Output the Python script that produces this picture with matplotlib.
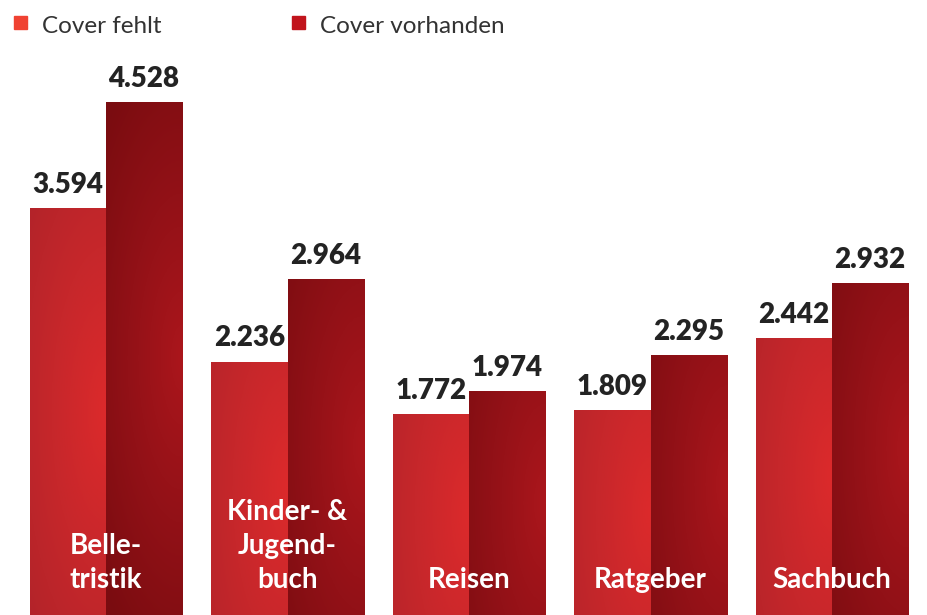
import numpy as np
import matplotlib
matplotlib.use("Agg")
import matplotlib.pyplot as plt
from matplotlib.colors import LinearSegmentedColormap

categories = ["Belle-\ntristik", "Kinder- &\nJugend-\nbuch", "Reisen", "Ratgeber", "Sachbuch"]
cover_fehlt = [3594, 2236, 1772, 1809, 2442]
cover_vorhanden = [4528, 2964, 1974, 2295, 2932]
series_names = ["Cover fehlt", "Cover vorhanden"]

plt.rcParams["font.family"] = ["Lato", "DejaVu Sans"]

fig = plt.figure(figsize=(9.27, 6.15), dpi=100)
ax = fig.add_axes([0, 0, 1, 1])
ax.set_xlim(-0.584, 4.523)
ax.set_ylim(0, 5428)
ax.axis("off")

x = np.arange(len(categories))
w = 0.419

cmap_fehlt = LinearSegmentedColormap.from_list("fehlt", ["#dc2a2b", "#c6272b", "#b02329"])
cmap_vorh = LinearSegmentedColormap.from_list("vorh", ["#ab161c", "#92111700", "#7a0c10"])
cmap_vorh = LinearSegmentedColormap.from_list("vorh", ["#ab161c", "#921117", "#7a0c10"])


def gradient_bars(bars, cmap):
    for b in bars:
        x0, y0 = b.get_x(), b.get_y()
        bw, bh = b.get_width(), b.get_height()
        b.set_facecolor("none")
        b.set_edgecolor("none")
        # radial gradient centred on the right edge, a bit below mid-height
        gx, gy = np.meshgrid(np.linspace(0, 1, 60), np.linspace(0, 1, 200))
        px = gx * bw * 181.5
        py = gy * bh * 0.1133
        cx, cy = bw * 181.5, bh * 0.1133 * 0.5
        d = np.hypot((px - cx) / 110.0, (py - cy) / 330.0)
        im = ax.imshow(np.clip(d, 0, 1), cmap=cmap, vmin=0, vmax=1, origin="lower",
                       extent=[x0, x0 + bw, y0, y0 + bh], aspect="auto",
                       interpolation="bilinear", zorder=1)
        im.set_clip_path(b)


b1 = ax.bar(x - w / 2, cover_fehlt, w, zorder=1)
b2 = ax.bar(x + w / 2, cover_vorhanden, w, zorder=1)
gradient_bars(b1, cmap_fehlt)
gradient_bars(b2, cmap_vorh)

for xs, vals in [(x - w / 2, cover_fehlt), (x + w / 2, cover_vorhanden)]:
    for xi, v in zip(xs, vals):
        label = f"{v:,}".replace(",", ".")
        ax.annotate(label, (xi, v), xytext=(0, 11), textcoords="offset points",
                    ha="center", va="baseline", fontsize=20, fontweight="heavy",
                    color="#232323", zorder=3)

for xi, cat in zip(x, categories):
    ax.text(xi, 238, cat, ha="center", va="baseline", multialignment="center",
            fontsize=20, fontweight="bold", color="white", linespacing=1.38, zorder=3)

# legend
leg_colors = ["#f04232", "#c1141c"]
leg_x = [14, 292]
for lx, col, name in zip(leg_x, leg_colors, series_names):
    fig.patches.append(plt.Rectangle((lx / 927, 1 - 29 / 615), 13 / 927, 13 / 615,
                                     transform=fig.transFigure, color=col))
    fig.text((lx + 28) / 927, 1 - 33 / 615, name, ha="left", va="baseline",
             fontsize=17.5, color="#333333")

fig.savefig("out.png", dpi=100)
